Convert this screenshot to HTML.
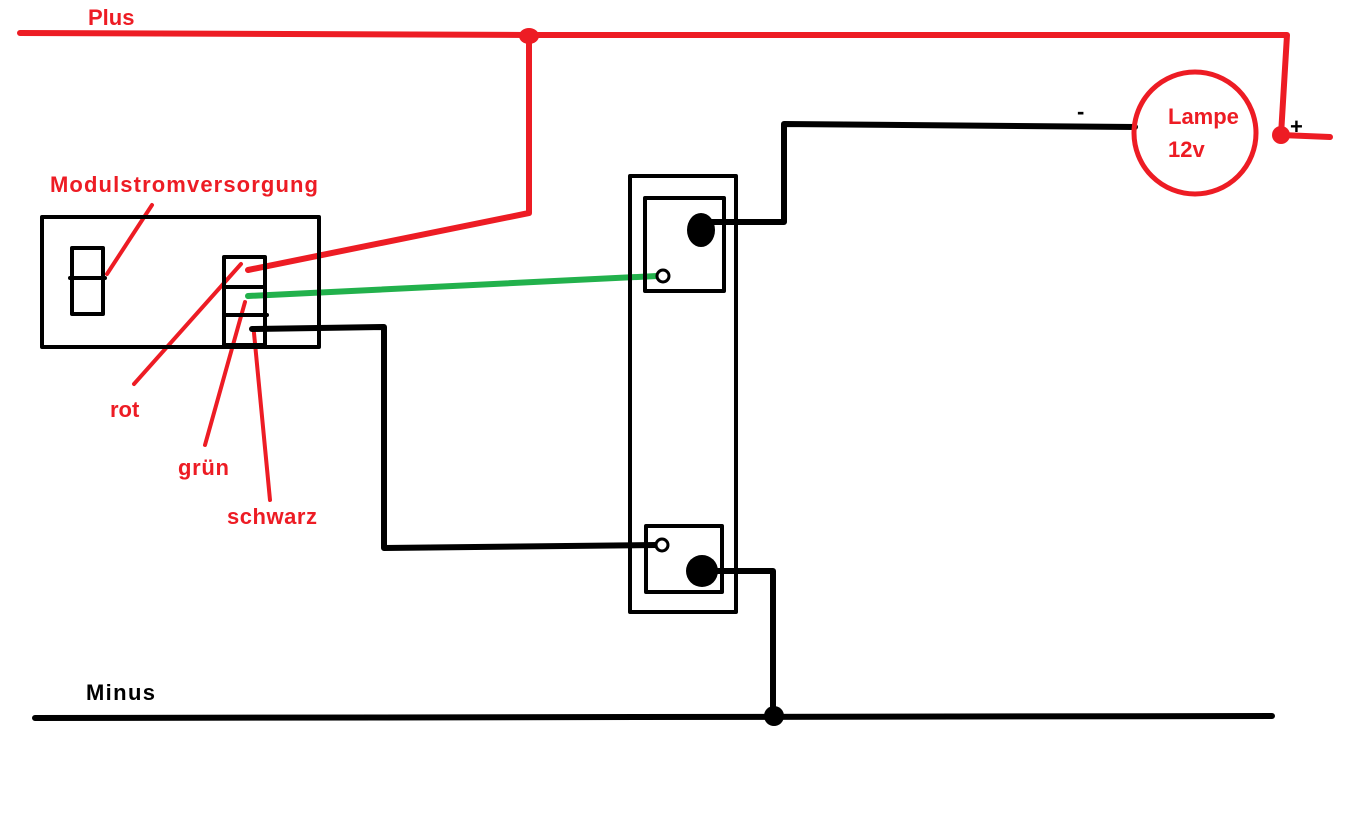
<!DOCTYPE html>
<html><head><style>body{margin:0;background:#fff}svg{display:block}text{font-family:"Liberation Sans",sans-serif;font-weight:bold;font-size:22px}</style></head><body>
<svg width="1345" height="824" viewBox="0 0 1345 824">
<g fill="none" stroke-linecap="round" stroke-linejoin="round">
<path d="M20 33 L529 35 L1287 35 L1281 135 L1330 137" stroke="#ed1c24" stroke-width="6"/>
<path d="M529 36 L529 213 L248 270" stroke="#ed1c24" stroke-width="6"/>
<path d="M152 205 L107 274 M241 264 L134 384 M245 302 L205 445 M254 333 L270 500" stroke="#ed1c24" stroke-width="4"/>
<path d="M248 296 L657 276" stroke="#22b14c" stroke-width="6"/>
<path d="M252 329 L384 327 L384 548 L657 545" stroke="#000" stroke-width="6"/>
<path d="M705 222 L784 222 L784 124 L1135 127" stroke="#000" stroke-width="6"/>
<path d="M715 571 L773 571 L773 715" stroke="#000" stroke-width="6"/>
<path d="M35 718 L1272 716" stroke="#000" stroke-width="6"/>
<rect x="42" y="217" width="277" height="130" stroke="#000" stroke-width="4"/>
<rect x="72" y="248" width="31" height="66" stroke="#000" stroke-width="4"/>
<path d="M70 278 L105 278" stroke="#000" stroke-width="4"/>
<rect x="224" y="257" width="41" height="88" stroke="#000" stroke-width="4"/>
<path d="M224 287 L265 287 M224 315 L267 315" stroke="#000" stroke-width="4"/>
<rect x="630" y="176" width="106" height="436" stroke="#000" stroke-width="4"/>
<rect x="645" y="198" width="79" height="93" stroke="#000" stroke-width="4"/>
<rect x="646" y="526" width="76" height="66" stroke="#000" stroke-width="4"/>
<circle cx="663" cy="276" r="6" stroke="#000" stroke-width="3" fill="#fff"/>
<circle cx="662" cy="545" r="6" stroke="#000" stroke-width="3" fill="#fff"/>
<circle cx="1195" cy="133" r="61" stroke="#ed1c24" stroke-width="5"/>
</g>
<ellipse cx="701" cy="230" rx="14" ry="17" fill="#000"/>
<circle cx="702" cy="571" r="16" fill="#000"/>
<ellipse cx="529" cy="36" rx="10" ry="8" fill="#ed1c24"/>
<circle cx="1281" cy="135" r="9" fill="#ed1c24"/>
<circle cx="774" cy="716" r="10" fill="#000"/>
<g fill="#ed1c24">
<text x="88" y="25">Plus</text>
<text x="50" y="192" textLength="268">Modulstromversorgung</text>
<text x="110" y="417">rot</text>
<text x="178" y="475" textLength="51">grün</text>
<text x="227" y="524" textLength="90">schwarz</text>
<text x="1168" y="124">Lampe</text>
<text x="1168" y="157">12v</text>
</g>
<g fill="#000">
<text x="86" y="700" textLength="69">Minus</text>
<text x="1077" y="119">-</text>
<text x="1290" y="134">+</text>
</g>
</svg>
</body></html>
